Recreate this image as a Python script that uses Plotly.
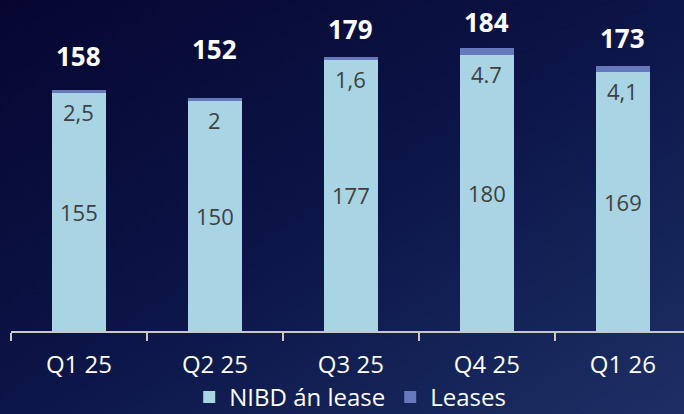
import base64
import plotly.graph_objects as go

# Net interest-bearing debt by quarter (stacked: NIBD excl. leases + leases)
quarters = ["Q1 25", "Q2 25", "Q3 25", "Q4 25", "Q1 26"]
nibd = [155, 150, 177, 180, 169]
leases = [2.5, 2, 1.6, 4.7, 4.1]
lease_labels = ["2,5", "2", "1,6", "4.7", "4,1"]
totals = [158, 152, 179, 184, 173]

FONT = "Open Sans, Noto Sans, sans-serif"
C_NIBD = "#a9d4e4"
C_LEASE = "#6779bc"
C_TEXT = "#404040"

W, H = 684, 414
M_L, M_R, M_T, M_B = 11, 0, 0, 83

# vertical nudges (px) for the total labels above each stack
total_lift = [34, 49, 28, 26, 28]

fig = go.Figure()
fig.add_trace(go.Bar(x=quarters, y=nibd, name="NIBD án lease",
                     marker=dict(color=C_NIBD, line=dict(width=0)),
                     hoverinfo="skip"))
fig.add_trace(go.Bar(x=quarters, y=leases, name="Leases",
                     marker=dict(color=C_LEASE, line=dict(width=0)),
                     hoverinfo="skip"))

ann = []
for i, q in enumerate(quarters):
    top = nibd[i] + leases[i]
    ann.append(dict(x=q, y=top, text=f"<b>{totals[i]}</b>", showarrow=False,
                    yanchor="middle", yshift=total_lift[i],
                    font=dict(family=FONT, size=26, color="white")))
    ann.append(dict(x=q, y=nibd[i], text=lease_labels[i], showarrow=False,
                    yanchor="middle", yshift=-19,
                    font=dict(family=FONT, size=22, color=C_TEXT)))
    ann.append(dict(x=q, y=nibd[i] / 2, text=str(nibd[i]), showarrow=False,
                    yanchor="middle",
                    font=dict(family=FONT, size=22, color=C_TEXT)))

# diagonal navy gradient for the whole canvas
svg = f"""<svg xmlns='http://www.w3.org/2000/svg' width='{W}' height='{H}' preserveAspectRatio='none'>
<defs><linearGradient id='g' x1='0' y1='0' x2='1' y2='1'>
<stop offset='0' stop-color='#060631'/>
<stop offset='0.5' stop-color='#0c1547'/>
<stop offset='1' stop-color='#1c3065'/>
</linearGradient></defs>
<rect width='{W}' height='{H}' fill='url(#g)'/></svg>"""
src = "data:image/svg+xml;base64," + base64.b64encode(svg.encode()).decode()

pw = W - M_L - M_R
ph = H - M_T - M_B

fig.update_layout(
    width=W, height=H,
    margin=dict(l=M_L, r=M_R, t=M_T, b=M_B, pad=0, autoexpand=False),
    barmode="stack", bargap=0.6,
    paper_bgcolor="#0c1547", plot_bgcolor="rgba(0,0,0,0)",
    font=dict(family=FONT, color="white"),
    showlegend=True,
    legend=dict(orientation="h", xref="container", x=0.512, xanchor="center",
                yref="container", y=0.04, yanchor="middle",
                font=dict(family=FONT, size=24, color="white"),
                itemwidth=30, traceorder="normal", bgcolor="rgba(0,0,0,0)"),
    xaxis=dict(range=[-0.5, 4.45], showgrid=False, zeroline=False,
               showline=True, linecolor="#c8c8c8", linewidth=1.5,
               ticks="outside", tickson="boundaries", ticklen=8,
               tickcolor="#c8c8c8", tickwidth=1.5, ticklabelstandoff=11,
               tickfont=dict(family=FONT, size=24, color="white")),
    yaxis=dict(range=[0, 216], visible=False, showgrid=False, zeroline=False),
    annotations=ann,
    images=[dict(source=src, xref="paper", yref="paper",
                 x=-M_L / pw, y=1 + M_T / ph, sizex=W / pw, sizey=H / ph,
                 xanchor="left", yanchor="top", sizing="stretch", layer="below")],
)

fig.write_html("out.html")
